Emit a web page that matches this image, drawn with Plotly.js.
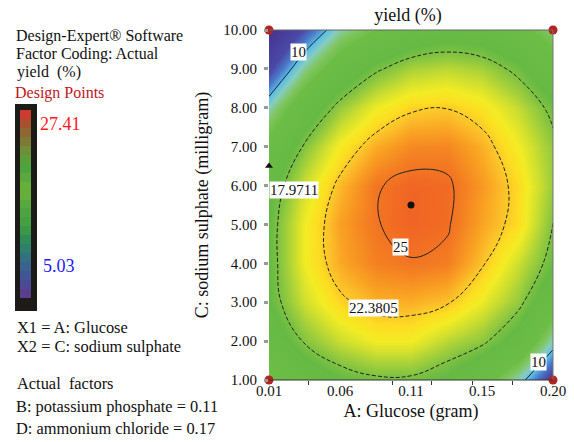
<!DOCTYPE html>
<html>
<head>
<meta charset="utf-8">
<script src="https://cdn.plot.ly/plotly-3.0.1.min.js"></script>
<style>html,body{margin:0;padding:0;background:#fff;}#chart{width:574px;height:442px;}</style>
</head>
<body>
<div id="chart"></div>
<script>
// Factor A: Glucose (gram) grid
const glucose = [0.01, 0.03375, 0.0575, 0.08125, 0.105, 0.12875, 0.1525, 0.17625, 0.2];
// Factor C: sodium sulphate (milligram) grid
const sodiumSulphate = [1, 2, 3, 4, 5, 6, 7, 8, 9, 10];
// Predicted yield (%) read from the response surface (rows = sodium sulphate, cols = glucose)
const yieldRows = [
  [12.81, 15.32, 16.83, 17.60, 17.60, 16.60, 14.50, 11.00, 6.50],
  [15.39, 18.15, 19.90, 21.00, 21.00, 19.50, 18.40, 16.00, 11.00],
  [16.90, 20.04, 22.04, 23.03, 23.10, 22.60, 20.80, 18.60, 15.00],
  [17.00, 20.98, 23.23, 24.48, 24.90, 24.60, 22.60, 20.00, 17.20],
  [17.00, 20.98, 23.48, 24.90, 25.55, 25.20, 23.40, 21.80, 17.95],
  [16.40, 20.07, 22.82, 24.85, 25.50, 25.30, 23.71, 21.90, 18.70],
  [14.21, 18.21, 21.20, 23.19, 24.20, 24.30, 23.09, 21.05, 18.50],
  [11.16, 15.41, 18.65, 20.88, 22.11, 22.33, 21.54, 19.74, 17.40],
  [7.16, 11.66, 15.15, 17.63, 19.11, 19.57, 19.03, 17.48, 14.92],
  [4.00, 7.80, 11.30, 13.44, 15.16, 15.88, 15.59, 14.29, 11.98]
];
// Contour levels shown
const solidLevels = [10, 25];
const dashedLevels = [17.9711, 22.3805];
// Design points
const designA = [0.01, 0.2, 0.01, 0.2];
const designC = [10, 10, 1, 1];
const centerA = [0.105];
const centerC = [5.5];
// Colour legend levels (Design Points range 5.03 .. 27.41)
const legendLevels = [5.03, 6.15, 7.27, 8.39, 9.51, 10.63, 11.74, 12.86, 13.98, 15.10, 16.22,
                      17.34, 18.46, 19.58, 20.70, 21.82, 22.93, 24.05, 25.17, 26.29, 27.41];
// Axis ticks
const xTickVals = [0.01, 0.0575, 0.105, 0.1525, 0.2];
const xTickText = ['0.01', '0.06', '0.11', '0.15', '0.20'];
const xMinorTicks = [0.0367, 0.0923, 0.119, 0.146, 0.173];
const yTickVals = [1, 2, 3, 4, 5, 6, 7, 8, 9, 10];

const serif = '"Liberation Serif", "Times New Roman", serif';

const surfaceScale = [
  [0, '#45348F'], [0.159, '#4A48A6'], [0.218, '#4A78C8'], [0.273, '#5BBDE8'],
  [0.318, '#86CDBE'], [0.377, '#80C55E'], [0.432, '#6BBD45'], [0.591, '#66BA44'],
  [0.636, '#7FC241'], [0.682, '#A5D03A'], [0.727, '#CFDF2E'], [0.773, '#F3EC24'],
  [0.809, '#FDDD22'], [0.845, '#FCC12A'], [0.886, '#F9A022'], [0.932, '#F47F22'],
  [0.977, '#F06524'], [1, '#EF5A25']
];
const legendScale = [
  [0, '#5B3D8E'], [0.06, '#4A4C96'], [0.12, '#3C5A94'], [0.18, '#37698A'], [0.24, '#2E7D6E'],
  [0.30, '#2F8C58'], [0.36, '#3E9B45'], [0.42, '#48A242'], [0.48, '#53A73E'], [0.54, '#62AD3A'],
  [0.58, '#6BB13A'], [0.64, '#5CAA3C'], [0.70, '#4DA43F'], [0.75, '#5A9E3C'], [0.80, '#6E8E38'],
  [0.85, '#7C7A34'], [0.89, '#8C6A32'], [0.93, '#9E5830'], [0.97, '#B4482E'], [1, '#CC3A30']
];

function contourTrace(levels, dash) {
  return levels.map(lv => ({
    type: 'contour', x: glucose, y: sodiumSulphate, z: yieldRows,
    autocontour: false, contours: {start: lv, end: lv, size: 1, coloring: 'none', showlabels: false},
    line: {color: '#222', width: 1, dash: dash, smoothing: 1.2},
    showscale: false, hoverinfo: 'skip', xaxis: 'x', yaxis: 'y'
  }));
}

const traces = [
  {type: 'heatmap', x: glucose, y: sodiumSulphate, z: yieldRows, zsmooth: 'best',
   colorscale: surfaceScale, zmin: 4, zmax: 26, showscale: false, hoverinfo: 'skip'},
  ...contourTrace(solidLevels, 'solid'),
  ...contourTrace(dashedLevels, '4px,2px'),
  {type: 'scatter', mode: 'markers', x: designA, y: designC, cliponaxis: false,
   marker: {color: '#B3241F', size: 9}, hoverinfo: 'skip'},
  {type: 'scatter', mode: 'markers', x: centerA, y: centerC, cliponaxis: false,
   marker: {color: '#111', size: 7}, hoverinfo: 'skip'},
  {type: 'scatter', mode: 'markers', x: [0.01], y: [6.5], cliponaxis: false,
   marker: {color: '#111', size: 7, symbol: 'triangle-up'}, hoverinfo: 'skip'},
  {type: 'heatmap', x: [0], y: legendLevels, z: legendLevels.map(v => [v]), zsmooth: false,
   colorscale: legendScale, zmin: 5.03, zmax: 27.41, showscale: false, hoverinfo: 'skip',
   xaxis: 'x2', yaxis: 'y2'}
];

const W = 574, H = 442;
const px = v => v / W;
const py = v => 1 - v / H;

function note(text, x, y, size, color) {
  return {text: text, x: px(x), y: py(y), xref: 'paper', yref: 'paper', xanchor: 'left',
    yanchor: 'middle', showarrow: false, font: {family: serif, size: size, color: color || '#111'}};
}
function clabel(text, x, y, xanchor) {
  return {text: text, x: x, y: y, xref: 'x', yref: 'y', xanchor: xanchor || 'center', yanchor: 'middle',
    showarrow: false, bgcolor: '#fff', borderpad: 0, font: {family: serif, size: 15, color: '#111'}};
}

const layout = {
  width: W, height: H, margin: {l: 0, r: 0, t: 0, b: 0},
  paper_bgcolor: '#fff', plot_bgcolor: 'rgba(0,0,0,0)', showlegend: false,
  font: {family: serif, color: '#111'},
  title: {text: 'yield (%)', x: px(408), xanchor: 'center', y: py(15), yanchor: 'middle',
    font: {family: serif, size: 18, color: '#111'}},
  xaxis: {domain: [px(269), px(553)], range: [0.01, 0.2], tickmode: 'array', tickvals: xTickVals,
    ticktext: xTickText, ticks: '', showgrid: false, zeroline: false, showline: false,
    tickfont: {family: serif, size: 15, color: '#111'},
    minor: {tickmode: 'array', tickvals: xMinorTicks, ticks: 'outside', ticklen: 4, tickwidth: 1, tickcolor: '#333', showgrid: false},
    title: {text: 'A: Glucose (gram)', font: {family: serif, size: 18, color: '#111'}, standoff: 6}},
  yaxis: {domain: [py(380), py(30)], range: [1, 10], tickmode: 'array', tickvals: yTickVals,
    tickformat: '.2f', ticks: 'outside', ticklen: 4, tickwidth: 3, tickcolor: '#9a9a9a',
    ticklabelstandoff: 4, showgrid: false, zeroline: false, showline: false,
    tickfont: {family: serif, size: 15, color: '#111'},
    title: {text: 'C: sodium sulphate (milligram)', font: {family: serif, size: 18, color: '#111'}, standoff: 9}},
  xaxis2: {domain: [px(20), px(31)], range: [-0.5, 0.5], visible: false, fixedrange: true},
  yaxis2: {domain: [py(298), py(110)], range: [4.47, 27.97], visible: false, fixedrange: true},
  shapes: [
    {type: 'rect', xref: 'paper', yref: 'paper', x0: px(15), x1: px(37), y0: py(311), y1: py(104),
     fillcolor: '#1c1b17', line: {width: 0}, layer: 'below'},
    {type: 'line', xref: 'x domain', yref: 'y domain', x0: 0, x1: 1, y0: 1, y1: 1, line: {color: '#666', width: 1}},
    {type: 'line', xref: 'x domain', yref: 'y domain', x0: 1, x1: 1, y0: 0, y1: 1, line: {color: '#777', width: 1}},
    {type: 'line', xref: 'x domain', yref: 'y domain', x0: 0, x1: 1, y0: 0, y1: 0, line: {color: '#333', width: 1}}
  ],
  annotations: [
    note('Design-Expert® Software', 14, 36, 16),
    note('Factor Coding: Actual', 14, 54, 16),
    note('yield  (%)', 15, 72, 16),
    note('Design Points', 13, 93, 16, '#C0161C'),
    note('27.41', 38, 124, 18, '#FF1A1A'),
    note('5.03', 41, 266, 18, '#1A1AFF'),
    note('X1 = A: Glucose', 15, 327, 16.4),
    note('X2 = C: sodium sulphate', 15, 346, 16.4),
    note('Actual  factors', 15, 383, 16.4),
    note('B: potassium phosphate = 0.11', 14, 406, 16.4),
    note('D: ammonium chloride = 0.17', 14, 428, 16.4),
    clabel('10', 0.0294, 9.43),
    clabel('17.9711', 0.01, 5.88, 'left'),
    clabel('22.3805', 0.0796, 2.85),
    clabel('25', 0.0983, 4.42),
    clabel('10', 0.19, 1.46)
  ]
};

Plotly.newPlot('chart', traces, layout, {displayModeBar: false, staticPlot: true});
</script>
</body>
</html>
